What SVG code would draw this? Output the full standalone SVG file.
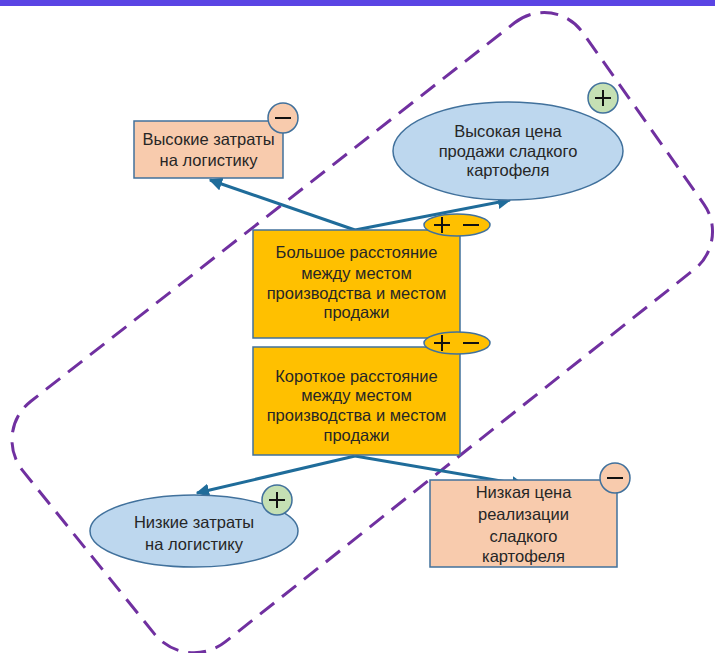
<svg xmlns="http://www.w3.org/2000/svg" width="715" height="653" viewBox="0 0 715 653">
<defs>
<style>
.t{font-family:"Liberation Sans",Arial,sans-serif;font-size:16.5px;fill:#262626;text-anchor:middle}
.nd{stroke:#41719c;stroke-width:1.5}
.peach{fill:#f8cbad}
.blue{fill:#bdd7ee}
.gold{fill:#ffc000}
.green{fill:#c5e0b4}
.conn{stroke:#1f6c9a;stroke-width:3;fill:none;marker-end:url(#ah)}
.sign{stroke:#111;stroke-width:2;fill:none}
</style>
<marker id="ah" viewBox="0 0 10 10" refX="9" refY="5" markerWidth="4.5" markerHeight="4.5" orient="auto" markerUnits="strokeWidth">
<path d="M0,0 L10,5 L0,10 z" fill="#1f6c9a"/>
</marker>
</defs>
<rect x="0" y="0" width="715" height="653" fill="#ffffff"/>
<rect x="0" y="0" width="715" height="6" fill="#5a44e4"/>
<g id="boundary">
<path d="M514.6,22.8 C536.3,5.9 567,10.3 582.9,32.8 L704,204.3 C718.3,224.5 714.2,253.6 694.8,269 L225.2,641.9 C203.7,659 171.9,655.5 154.6,634.1 L22.9,470.9 C5.6,449.5 9.2,418.1 30.9,401.2 Z" fill="none" stroke="#7030a0" stroke-width="3" stroke-dasharray="18 10"/>
</g>
<g id="connectors">
<path class="conn" d="M355,230 L210,180"/>
<path class="conn" d="M355,230 L510,200"/>
<path class="conn" d="M355,456 L197,493"/>
<path class="conn" d="M355,456 L524,485"/>
</g>
<g id="n-high-cost">
<rect class="nd peach" x="134" y="121" width="149" height="57"/>
<text class="t" x="208.5" y="145">Высокие затраты</text>
<text class="t" x="208.5" y="166">на логистику</text>
<circle class="nd peach" cx="283" cy="118" r="15"/>
<path class="sign" d="M275,118 H291"/>
</g>
<g id="n-high-price">
<ellipse class="nd blue" cx="508" cy="151" rx="115" ry="49"/>
<text class="t" x="508" y="137">Высокая цена</text>
<text class="t" x="508" y="157">продажи сладкого</text>
<text class="t" x="508" y="176">картофеля</text>
<circle class="nd green" cx="603" cy="98" r="15"/>
<path class="sign" d="M595,98 H611 M603,90 V106"/>
</g>
<g id="n-long-dist">
<rect class="nd gold" x="253" y="230" width="207" height="108"/>
<text class="t" x="356.5" y="258">Большое расстояние</text>
<text class="t" x="356.5" y="279">между местом</text>
<text class="t" x="356.5" y="299">производства и местом</text>
<text class="t" x="356.5" y="318">продажи</text>
<ellipse class="nd gold" cx="457" cy="225" rx="33" ry="11"/>
<path class="sign" d="M434,225 H450 M442,217 V233 M463,225 H479"/>
</g>
<g id="n-short-dist">
<rect class="nd gold" x="253" y="347" width="207" height="108"/>
<text class="t" x="356.5" y="382">Короткое расстояние</text>
<text class="t" x="356.5" y="401">между местом</text>
<text class="t" x="356.5" y="421">производства и местом</text>
<text class="t" x="356.5" y="441">продажи</text>
<ellipse class="nd gold" cx="457" cy="343" rx="33" ry="11"/>
<path class="sign" d="M434,343 H450 M442,335 V351 M463,343 H479"/>
</g>
<g id="n-low-cost">
<ellipse class="nd blue" cx="194" cy="531" rx="104" ry="36"/>
<text class="t" x="194" y="528">Низкие затраты</text>
<text class="t" x="194" y="550">на логистику</text>
<circle class="nd green" cx="277" cy="500" r="15"/>
<path class="sign" d="M269,500 H285 M277,492 V508"/>
</g>
<g id="n-low-price">
<rect class="nd peach" x="430" y="480" width="187" height="87"/>
<text class="t" x="523.5" y="498">Низкая цена</text>
<text class="t" x="523.5" y="520">реализации</text>
<text class="t" x="523.5" y="542">сладкого</text>
<text class="t" x="523.5" y="562">картофеля</text>
<circle class="nd peach" cx="615" cy="478" r="15"/>
<path class="sign" d="M607,478 H623"/>
</g>
</svg>
